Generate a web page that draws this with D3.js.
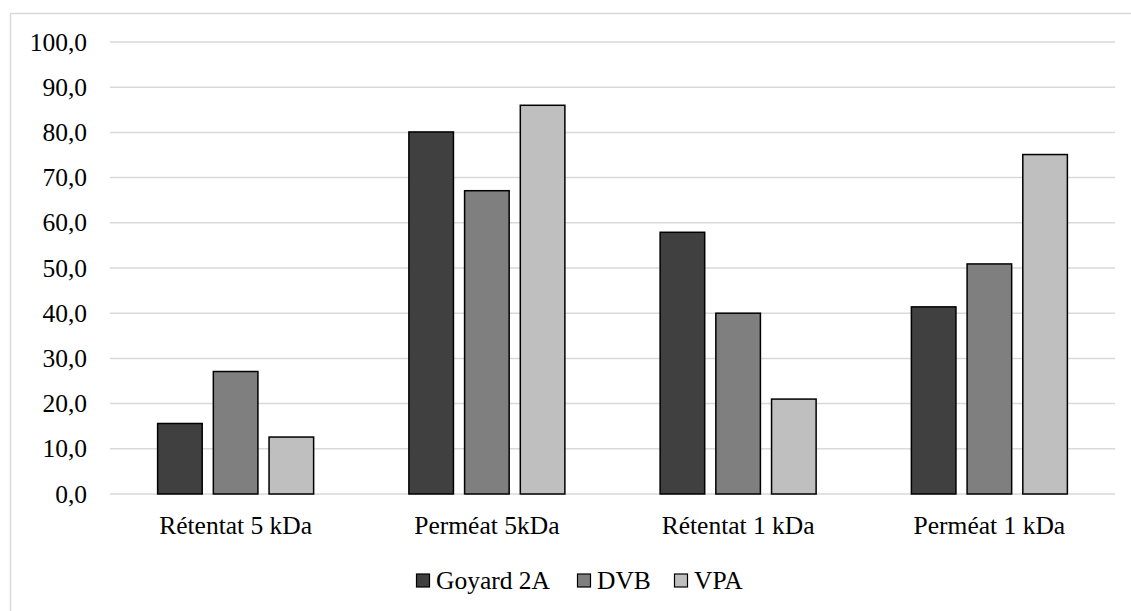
<!DOCTYPE html>
<html>
<head>
<meta charset="utf-8">
<script src="https://cdn.jsdelivr.net/npm/d3@7"></script>
<style>
  html, body { margin: 0; padding: 0; background: #fff; }
  svg { display: block; }
</style>
</head>
<body>
<svg id="chart" width="1131" height="611"></svg>
<script>
const categories = ["Rétentat 5 kDa", "Perméat 5kDa", "Rétentat 1 kDa", "Perméat 1 kDa"];
const seriesNames = ["Goyard 2A", "DVB", "VPA"];
const goyard = [15.6, 80.1, 57.9, 41.4];
const dvb = [27.1, 67.1, 40.0, 50.9];
const vpa = [12.6, 86.0, 21.0, 75.1];
const seriesColors = ["#404040", "#7f7f7f", "#bfbfbf"];
const yTicks = [0, 10, 20, 30, 40, 50, 60, 70, 80, 90, 100];

const seriesValues = [goyard, dvb, vpa];
const FONT = "'Times New Roman', 'Liberation Serif', Tinos, 'DejaVu Serif', serif";
const svg = d3.select("#chart").style("font-family", FONT);
const W = 1131, H = 611;
const fontSize = 25.5;

// outer frame
svg.append("rect").attr("x", 10.5).attr("y", 13.5).attr("width", W + 10).attr("height", H + 10)
  .attr("fill", "none").attr("stroke", "#d9d9d9").attr("stroke-width", 1.5);

const plot = { left: 110, right: 1115, top: 42, bottom: 494 };

const y = d3.scaleLinear().domain([0, 100]).range([plot.bottom, plot.top]);
const x0 = d3.scaleBand().domain(categories).range([plot.left, plot.right]).paddingInner(0).paddingOuter(0);
const groupW = 156;
const x1 = d3.scaleBand().domain(seriesNames).range([0, groupW]).paddingInner(0.2).paddingOuter(0);

// gridlines
svg.append("g").selectAll("line").data(yTicks).join("line")
  .attr("x1", plot.left).attr("x2", plot.right)
  .attr("y1", d => y(d)).attr("y2", d => y(d))
  .attr("stroke", "#d9d9d9").attr("stroke-width", 1.5);

// y axis labels
const yAxis = d3.axisLeft(y).tickValues(yTicks).tickSize(0).tickPadding(0)
  .tickFormat(d => d3.format(".1f")(d).replace(".", ","));
const gy = svg.append("g").attr("transform", `translate(87,0)`).call(yAxis);
gy.attr("font-family", null).attr("font-size", null);
gy.select(".domain").remove();
gy.selectAll("text").style("font-family", FONT).style("font-size", fontSize + "px").attr("fill", "#000");

// bars
const groups = svg.append("g").selectAll("g").data(categories).join("g")
  .attr("transform", d => `translate(${x0(d) + (x0.bandwidth() - groupW) / 2},0)`);
groups.selectAll("rect").data((c, i) => seriesNames.map((s, j) => ({ s, j, v: seriesValues[j][i] })))
  .join("rect")
  .attr("x", d => x1(d.s))
  .attr("width", x1.bandwidth())
  .attr("y", d => y(d.v))
  .attr("height", d => y(0) - y(d.v))
  .attr("fill", d => seriesColors[d.j])
  .attr("stroke", "#000").attr("stroke-width", 1.5);

// x axis labels
const xAxis = d3.axisBottom(x0).tickSize(0).tickPadding(0);
const gx = svg.append("g").attr("transform", `translate(0,${plot.bottom})`).call(xAxis);
gx.attr("font-family", null).attr("font-size", null);
gx.select(".domain").remove();
gx.selectAll("text").style("font-family", FONT).style("font-size", fontSize + "px").attr("fill", "#000")
  .attr("dy", null).attr("y", 40);

// legend
const legendItems = [
  { name: seriesNames[0], x: 416 },
  { name: seriesNames[1], x: 577 },
  { name: seriesNames[2], x: 674 }
];
const lg = svg.append("g").selectAll("g").data(legendItems).join("g")
  .attr("transform", d => `translate(${d.x},0)`);
lg.append("rect").attr("x", 0.5).attr("y", 574).attr("width", 13).attr("height", 13)
  .attr("fill", (d, i) => seriesColors[i]).attr("stroke", "#000").attr("stroke-width", 1.2);
lg.append("text").attr("x", 20).attr("y", 589)
  .style("font-family", FONT).style("font-size", fontSize + "px").text(d => d.name);
</script>
</body>
</html>
